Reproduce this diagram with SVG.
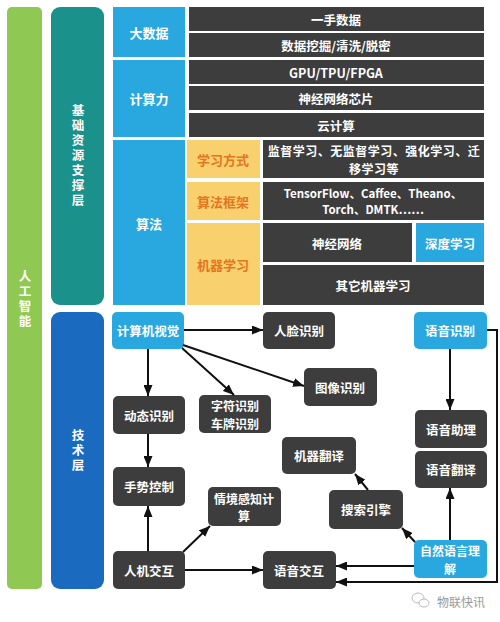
<svg xmlns="http://www.w3.org/2000/svg" width="500" height="622" viewBox="0 0 500 622">
<defs>
<marker id="ah" markerUnits="userSpaceOnUse" markerWidth="11" markerHeight="9" refX="11" refY="4.5" orient="auto">
<path d="M0,0 L11,4.5 L0,9 z" fill="#111"/>
</marker>
<style>
text{font-family:"Noto Sans CJK SC","Liberation Sans",sans-serif;font-weight:bold;text-anchor:middle;dominant-baseline:central;fill:#fff;font-size:12.5px}
.dk{fill:#3d3d3d}
.lb{fill:#29a8e0}
.yl{fill:#f9d06e}
.or{fill:#e3761e;font-size:13px}
.w{font-size:12px}
.v{writing-mode:vertical-rl;letter-spacing:2.5px;dominant-baseline:auto}
.c line,.c polyline{stroke:#111;stroke-width:2;fill:none;marker-end:url(#ah)}
</style>
</defs>
<rect width="500" height="622" fill="#fff"/>

<g id="ai">
<rect x="7" y="7" width="35" height="582" rx="5" fill="#8fc853"/>
<text class="v" x="25" y="300">人工智能</text>
</g>
<g id="basic-layer">
<rect x="51" y="7" width="53" height="298" rx="9" fill="#1b918c"/>
<text class="v" x="78" y="156">基础资源支撑层</text>
</g>
<g id="tech-layer">
<rect x="51" y="312" width="53" height="277" rx="9" fill="#1a6bbf"/>
<text class="v" x="78" y="451">技术层</text>
</g>

<g id="bigdata">
<rect class="lb" x="113" y="7" width="72" height="50"/>
<text x="149" y="32" style="font-size:13px">大数据</text>
</g>
<g id="compute">
<rect class="lb" x="113" y="60" width="72" height="77"/>
<text x="149" y="98" style="font-size:13px">计算力</text>
</g>
<g id="algo">
<rect class="lb" x="113" y="140" width="72" height="165"/>
<text x="149" y="223" style="font-size:13px">算法</text>
</g>

<g id="r1"><rect class="dk" x="189" y="7" width="295" height="24"/><text x="336" y="19">一手数据</text></g>
<g id="r2"><rect class="dk" x="189" y="33" width="295" height="24"/><text x="336" y="45">数据挖掘/清洗/脱密</text></g>
<g id="r3"><rect class="dk" x="189" y="60" width="295" height="24"/><text x="336" y="72">GPU/TPU/FPGA</text></g>
<g id="r4"><rect class="dk" x="189" y="86" width="295" height="24"/><text x="336" y="98">神经网络芯片</text></g>
<g id="r5"><rect class="dk" x="189" y="113" width="295" height="24"/><text x="336" y="125">云计算</text></g>

<g id="learn-mode"><rect class="yl" x="187" y="140" width="73" height="38"/><text class="or" x="223" y="159">学习方式</text></g>
<g id="framework"><rect class="yl" x="187" y="182" width="73" height="38"/><text class="or" x="223" y="201">算法框架</text></g>
<g id="ml"><rect class="yl" x="187" y="223" width="73" height="82"/><text class="or" x="223" y="264">机器学习</text></g>

<g id="learn-types"><rect class="dk" x="263" y="140" width="221" height="38"/>
<text class="w" x="374" y="150.5" style="letter-spacing:0.5px">监督学习、无监督学习、强化学习、迁<tspan x="374" dy="17">移学习等</tspan></text></g>
<g id="frameworks"><rect class="dk" x="263" y="182" width="221" height="38"/>
<text x="373" y="193" style="font-size:11.5px">TensorFlow、Caffee、Theano、<tspan x="373" dy="16">Torch、DMTK……</tspan></text></g>
<g id="nn"><rect class="dk" x="263" y="223" width="149" height="39"/><text x="337" y="243">神经网络</text></g>
<g id="dl"><rect class="lb" x="416" y="223" width="68" height="39"/><text x="450" y="243">深度学习</text></g>
<g id="other-ml"><rect class="dk" x="263" y="265" width="221" height="40"/><text x="373" y="285">其它机器学习</text></g>

<g id="cv"><rect class="lb" x="112" y="312" width="72" height="37" rx="5"/><text x="148" y="330">计算机视觉</text></g>
<g id="face"><rect class="dk" x="263" y="312" width="72" height="37" rx="5"/><text x="299" y="330">人脸识别</text></g>
<g id="speech-rec"><rect class="lb" x="414" y="312" width="73" height="37" rx="5"/><text x="450" y="330">语音识别</text></g>
<g id="image"><rect class="dk" x="304" y="368" width="73" height="38" rx="5"/><text x="340" y="387">图像识别</text></g>
<g id="motion"><rect class="dk" x="113" y="396" width="72" height="38" rx="5"/><text x="149" y="415">动态识别</text></g>
<g id="char"><rect class="dk" x="199" y="395" width="72" height="38" rx="5"/><text class="w" x="235" y="405.5">字符识别<tspan x="235" dy="17">车牌识别</tspan></text></g>
<g id="mt"><rect class="dk" x="282" y="437" width="74" height="37" rx="5"/><text x="319" y="455">机器翻译</text></g>
<g id="assistant"><rect class="dk" x="415" y="410" width="72" height="38" rx="5"/><text x="451" y="429">语音助理</text></g>
<g id="speech-trans"><rect class="dk" x="415" y="451" width="72" height="37" rx="5"/><text x="451" y="469">语音翻译</text></g>
<g id="gesture"><rect class="dk" x="113" y="467" width="72" height="39" rx="5"/><text x="149" y="486">手势控制</text></g>
<g id="context"><rect class="dk" x="208" y="487" width="73" height="39" rx="5"/><text class="w" x="244" y="498">情境感知计<tspan x="244" dy="17">算</tspan></text></g>
<g id="search"><rect class="dk" x="329" y="490" width="74" height="39" rx="5"/><text x="366" y="509">搜索引擎</text></g>
<g id="hci"><rect class="dk" x="113" y="551" width="72" height="38" rx="5"/><text x="149" y="570">人机交互</text></g>
<g id="voice"><rect class="dk" x="263" y="551" width="73" height="38" rx="5"/><text x="299" y="570">语音交互</text></g>
<g id="nlu"><rect class="lb" x="414" y="540" width="73" height="38" rx="5"/><text class="w" x="450" y="550.5">自然语言理<tspan x="450" dy="17">解</tspan></text></g>

<g id="connectors" class="c">
<line x1="184" y1="330" x2="263" y2="330"/>
<line x1="183" y1="345" x2="304" y2="386"/>
<line x1="182" y1="348" x2="234" y2="395"/>
<line x1="148" y1="349" x2="148" y2="396"/>
<line x1="148" y1="434" x2="148" y2="467"/>
<line x1="148" y1="551" x2="148" y2="506"/>
<line x1="183" y1="552" x2="210" y2="526"/>
<line x1="185" y1="570" x2="263" y2="570"/>
<line x1="414" y1="566" x2="336" y2="566"/>
<polyline points="487,330 497,330 497,582 336,582"/>
<line x1="450" y1="349" x2="450" y2="410"/>
<line x1="450" y1="540" x2="450" y2="488"/>
<line x1="415" y1="542" x2="402" y2="528"/>
<line x1="368" y1="490" x2="355" y2="474"/>
</g>

<g id="watermark">
<ellipse cx="418" cy="598" rx="6" ry="5" fill="none" stroke="#bbb" stroke-width="1"/>
<ellipse cx="424" cy="603" rx="5" ry="4" fill="#fff" stroke="#bbb" stroke-width="1"/>
<text x="461" y="601" style="fill:#999;font-weight:normal;font-size:12px">物联快讯</text>
</g>
</svg>
